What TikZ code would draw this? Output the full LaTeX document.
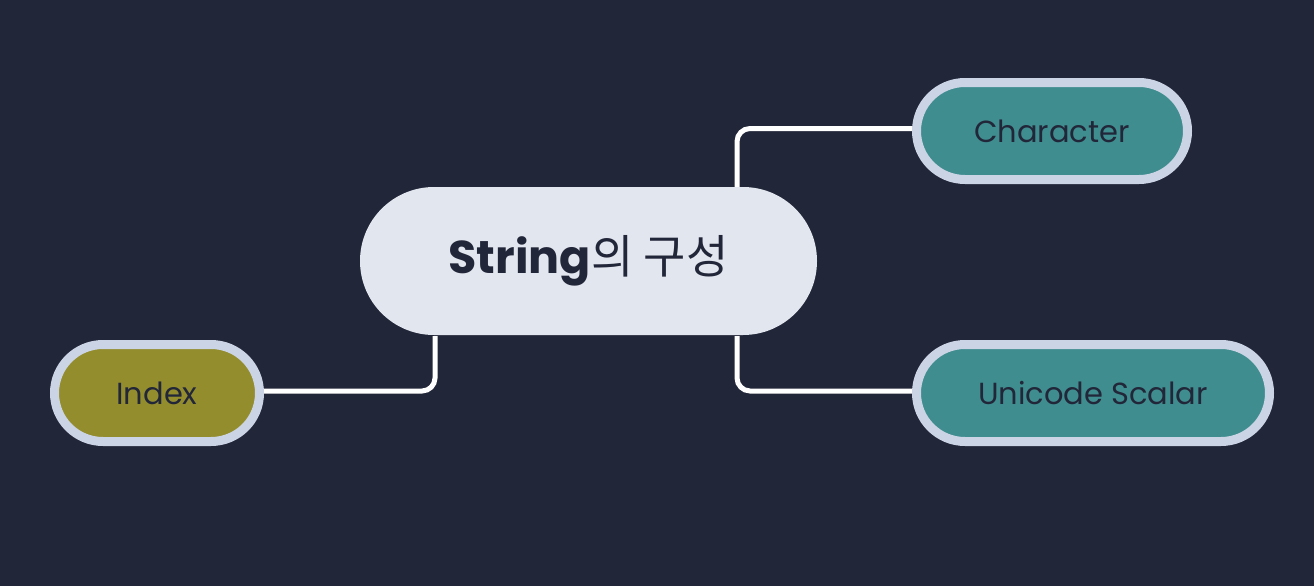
\documentclass[tikz,border=0pt]{standalone}
\usepackage{fontspec}
\setmainfont{Poppins}
\newfontfamily\kofont{Noto Sans CJK KR}
\usetikzlibrary{shapes.misc,backgrounds}
\definecolor{navy}{HTML}{222639}
\definecolor{rim}{HTML}{CBD4E4}
\definecolor{teal}{HTML}{3F8D8F}
\definecolor{olive}{HTML}{948D2E}
\definecolor{pale}{HTML}{E2E6EE}
\pgfdeclarelayer{background}
\pgfsetlayers{background,main}

\begin{document}
\begin{tikzpicture}[x=1pt,y=-1pt]
\tikzstyle{leaf}=[rounded rectangle,draw=rim,line width=9pt,inner sep=0pt,
  minimum height=97pt,text=navy,font=\fontsize{30.5}{32}\selectfont]
\tikzstyle{topic}=[rounded rectangle,fill=pale,inner sep=0pt,minimum width=457pt,
  minimum height=148pt,text=navy,font=\fontsize{46}{50}\selectfont\bfseries]
\tikzstyle{link}=[draw=white,line width=5pt,rounded corners=13pt]
\useasboundingbox (0,0) rectangle (1314,586);
\node[topic]    (S)     at (588.5,261)  {String{\kofont\mdseries 의 구성}};
\node[leaf,fill=teal,minimum width=271pt]  (C) at (1052,131)  {Character};
\node[leaf,fill=teal,minimum width=353pt]  (U) at (1093,393)  {Unicode Scalar};
\node[leaf,fill=olive,minimum width=205pt] (I) at (157,393)   {Index};
\coordinate (St) at (737,188);
\coordinate (Sr) at (737,336);
\coordinate (Sl) at (435,336);

\begin{pgfonlayer}{background}
\fill[navy] (0,0) rectangle (1314,586);
\path[link] (St) |- ([yshift=2.5pt]C.west)
            (Sr) |- ([yshift=2pt]U.west)
            (Sl) |- ([yshift=2pt]I.east);
\end{pgfonlayer}

\end{tikzpicture}
\end{document}
